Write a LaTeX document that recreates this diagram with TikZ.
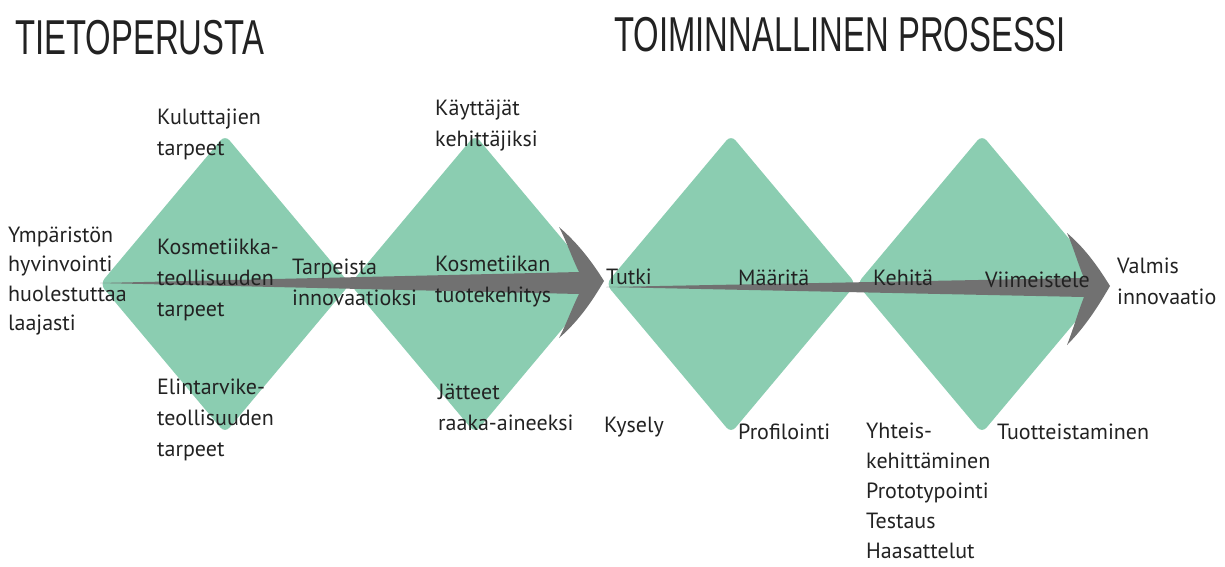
\documentclass[tikz,border=0pt]{standalone}
\usepackage{fontspec}
\setmainfont{PT Sans}
\newfontfamily\titlefont{Liberation Sans}
\usetikzlibrary{calc}
\definecolor{dgreen}{HTML}{8BCDB1}
\definecolor{agray}{HTML}{717171}
\definecolor{txt}{HTML}{222222}
\begin{document}
\begin{tikzpicture}[x=1pt,y=-1pt,
  lbl/.style={anchor=west,inner sep=0pt,align=left,text=txt,font=\fontsize{22}{31}\selectfont},
  ttl/.style={anchor=west,inner sep=0pt,text=txt,font=\titlefont\fontsize{49}{55}\selectfont},
  dia/.style={fill=dgreen,rounded corners=7pt},
  arr/.style={fill=agray}]
\useasboundingbox (0,0) rectangle (1225,566);
% diamonds
\foreach \n/\cx in {d1/225,d2/475,d3/731,d4/982}{
  \coordinate (\n) at (\cx,284);
  \fill[dia] ($(\n)+(-125,0)$) -- ($(\n)+(0,-149)$) -- ($(\n)+(125,0)$) -- ($(\n)+(0,149)$) -- cycle;
}
% arrows
\coordinate (a1s) at (100,283);
\coordinate (a1t) at (604,281);
\fill[arr] (a1s) -- (579,272) .. controls (572,258) and (566,240) .. (559,227)
  .. controls (580,245) and (594,265) .. (a1t)
  .. controls (594,298) and (580,320) .. (559,338)
  .. controls (566,325) and (572,308) .. (579,294) -- cycle;
\coordinate (a2s) at (606,287);
\coordinate (a2t) at (1110,286);
\fill[arr] (a2s) -- (1084,278) .. controls (1078,264) and (1073,246) .. (1067,233)
  .. controls (1087,250) and (1100,270) .. (a2t)
  .. controls (1100,303) and (1087,325) .. (1067,345)
  .. controls (1073,330) and (1078,312) .. (1084,297) -- cycle;
% titles
\node[ttl] (t1) at (15,37.5) {\scalebox{0.67}[1]{TIETOPERUSTA}};
\node[ttl] (t2) at (614,35) {\scalebox{0.67}[1]{TOIMINNALLINEN PROSESSI}};
% labels
\node[lbl,font=\fontsize{22}{29.5}\selectfont] (l1) at (8,281) {Ympäristön\\hyvinvointi\\huolestuttaa\\laajasti};
\node[lbl] (l2) at (157,134) {Kuluttajien\\tarpeet};
\node[lbl] (l3) at (157,280) {Kosmetiikka-\\teollisuuden\\tarpeet};
\node[lbl] (l4) at (157,420) {Elintarvike-\\teollisuuden\\tarpeet};
\node[lbl] (l5) at (292,282) {Tarpeista\\innovaatioksi};
\node[lbl] (l6) at (435,126) {Käyttäjät\\kehittäjiksi};
\node[lbl] (l7) at (435,281) {Kosmetiikan\\tuotekehitys};
\node[lbl] (l8) at (438,407) {Jätteet\\raaka-aineeksi};
\node[lbl] (l9) at (606,277) {Tutki};
\node[lbl] (l10) at (738,278) {Määritä};
\node[lbl] (l11) at (873,278) {Kehitä};
\node[lbl] (l12) at (985,280) {Viimeistele};
\node[lbl] (l13) at (1117,281) {Valmis\\innovaatio};
\node[lbl] (l14) at (604,427) {Kysely};
\node[lbl] (l15) at (738,432) {Profilointi};
\node[lbl,font=\fontsize{22}{30}\selectfont] (l16) at (866,491) {Yhteis-\\kehittäminen\\Prototypointi\\Testaus\\Haasattelut};
\node[lbl] (l17) at (997,432) {Tuotteistaminen};
\end{tikzpicture}
\end{document}
